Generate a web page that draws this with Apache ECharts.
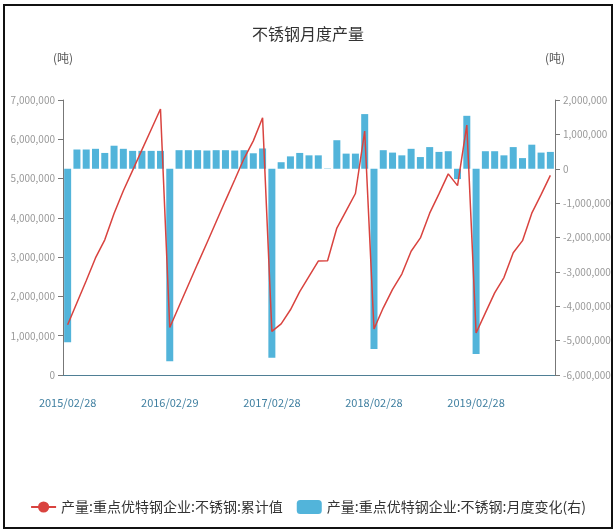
<!DOCTYPE html>
<html>
<head>
<meta charset="utf-8">
<script src="https://cdn.jsdelivr.net/npm/echarts@6/dist/echarts.min.js"></script>
<style>
  html, body { margin: 0; padding: 0; background: #fff; }
  #chart { width: 616px; height: 532px; }
</style>
</head>
<body>
<div id="chart"></div>
<script>
// Month-end dates (January is reported together with February)
const categories = [
  '2015/02/28','2015/03/31','2015/04/30','2015/05/31','2015/06/30','2015/07/31','2015/08/31','2015/09/30','2015/10/31','2015/11/30','2015/12/31',
  '2016/02/29','2016/03/31','2016/04/30','2016/05/31','2016/06/30','2016/07/31','2016/08/31','2016/09/30','2016/10/31','2016/11/30','2016/12/31',
  '2017/02/28','2017/03/31','2017/04/30','2017/05/31','2017/06/30','2017/07/31','2017/08/31','2017/09/30','2017/10/31','2017/11/30','2017/12/31',
  '2018/02/28','2018/03/31','2018/04/30','2018/05/31','2018/06/30','2018/07/31','2018/08/31','2018/09/30','2018/10/31','2018/11/30','2018/12/31',
  '2019/02/28','2019/03/31','2019/04/30','2019/05/31','2019/06/30','2019/07/31','2019/08/31','2019/09/30','2019/10/31'
];

// Year-to-date output (tonnes)
const cumulative = [
  1280000, 1840000, 2400000, 2980000, 3440000, 4110000, 4690000, 5210000, 5730000, 6250000, 6770000,
  1210000, 1750000, 2290000, 2830000, 3360000, 3900000, 4440000, 4970000, 5510000, 5960000, 6550000,
  1110000, 1300000, 1660000, 2120000, 2510000, 2900000, 2910000, 3740000, 4180000, 4620000, 6210000,
  1170000, 1710000, 2180000, 2570000, 3150000, 3490000, 4120000, 4610000, 5120000, 4820000, 6360000,
  1070000, 1580000, 2090000, 2480000, 3110000, 3420000, 4120000, 4590000, 5080000
];

// Month-on-month change (tonnes, right axis)
const monthlyChange = [
  -5050000, 560000, 560000, 580000, 460000, 670000, 580000, 520000, 520000, 520000, 520000,
  -5600000, 540000, 540000, 540000, 530000, 540000, 540000, 530000, 540000, 450000, 590000,
  -5500000, 190000, 360000, 460000, 390000, 390000, 10000, 830000, 440000, 440000, 1590000,
  -5240000, 540000, 470000, 390000, 580000, 340000, 630000, 490000, 510000, -300000, 1540000,
  -5390000, 510000, 510000, 390000, 630000, 310000, 700000, 470000, 490000
];

const lineName = '产量:重点优特钢企业:不锈钢:累计值';
const barName = '产量:重点优特钢企业:不锈钢:月度变化(右)';

const FONT = '"Noto Sans CJK SC", "Noto Sans", sans-serif';

const chart = echarts.init(document.getElementById('chart'), null, { renderer: 'canvas' });

chart.setOption({
  animation: false,
  backgroundColor: '#fff',
  textStyle: { fontFamily: FONT },
  title: {
    text: '不锈钢月度产量',
    left: 'center',
    top: 21,
    textStyle: { fontFamily: FONT, fontSize: 16, fontWeight: 'normal', color: '#333' }
  },
  legend: {
    bottom: 13,
    left: 'center',
    itemWidth: 25,
    itemHeight: 14,
    itemGap: 14,
    textStyle: { fontFamily: FONT, fontSize: 14, color: '#333' },
    data: [lineName, barName]
  },
  graphic: [{
    type: 'rect',
    shape: { x: 4, y: 5, width: 608, height: 523 },
    style: { fill: null, stroke: '#111', lineWidth: 2 },
    silent: true
  }],
  grid: { left: 63, right: 61, top: 100, bottom: 157 },
  xAxis: {
    type: 'category',
    data: categories,
    boundaryGap: true,
    axisLine: { lineStyle: { color: '#4f7f95', width: 1 } },
    axisTick: { interval: 10, length: 6, lineStyle: { color: '#4f7f95' } },
    axisLabel: {
      interval: 10,
      margin: 22,
      fontFamily: FONT,
      fontSize: 11,
      color: '#3f7fa0'
    },
    splitLine: { show: false }
  },
  yAxis: [
    {
      type: 'value',
      position: 'left',
      min: 0,
      max: 7000000,
      interval: 1000000,
      name: '(吨)',
      nameLocation: 'end',
      nameGap: 36,
      nameTextStyle: { fontFamily: FONT, fontSize: 12, color: '#555' },
      axisLine: { show: true, lineStyle: { color: '#777' } },
      axisTick: { show: true, length: 5, lineStyle: { color: '#777' } },
      axisLabel: { fontFamily: FONT, fontSize: 10, color: '#999', margin: 8 },
      splitLine: { show: false }
    },
    {
      type: 'value',
      position: 'right',
      min: -6000000,
      max: 2000000,
      interval: 1000000,
      name: '(吨)',
      nameLocation: 'end',
      nameGap: 36,
      nameTextStyle: { fontFamily: FONT, fontSize: 12, color: '#555' },
      axisLine: { show: true, lineStyle: { color: '#777' } },
      axisTick: { show: true, length: 5, lineStyle: { color: '#777' } },
      axisLabel: { fontFamily: FONT, fontSize: 10, color: '#999', margin: 8 },
      splitLine: { show: false }
    }
  ],
  series: [
    {
      name: lineName,
      type: 'line',
      yAxisIndex: 0,
      data: cumulative,
      z: 3,
      symbol: 'circle',
      symbolSize: 8,
      showSymbol: false,
      lineStyle: { color: '#d9433f', width: 1.5 },
      itemStyle: { color: '#d9433f' }
    },
    {
      name: barName,
      type: 'bar',
      yAxisIndex: 1,
      data: monthlyChange,
      barWidth: 7,
      itemStyle: { color: '#52b4da' }
    }
  ]
});
</script>
</body>
</html>
